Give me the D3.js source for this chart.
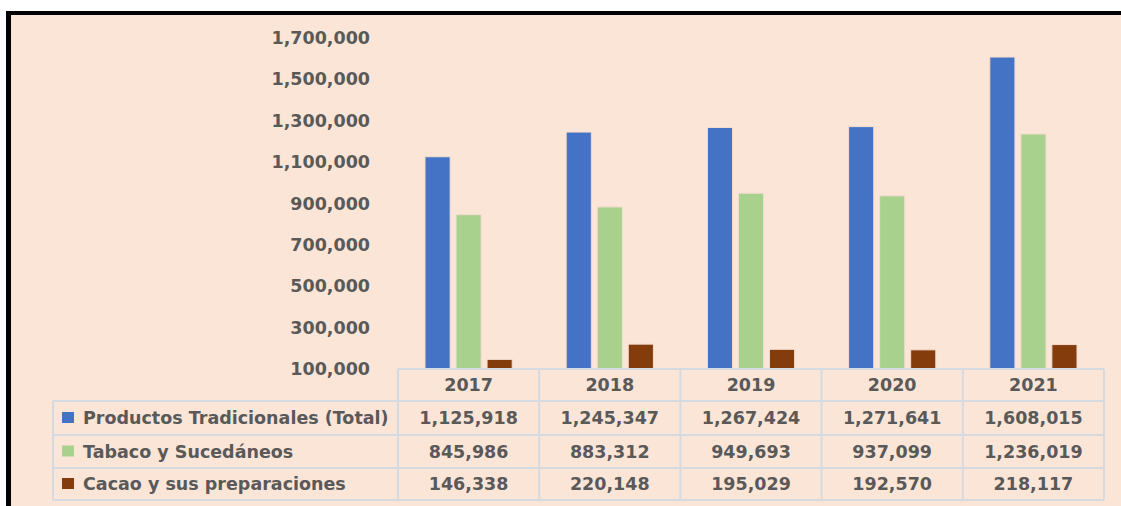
<!DOCTYPE html>
<html>
<head>
<meta charset="utf-8">
<script src="https://cdn.jsdelivr.net/npm/d3@7"></script>
<style>
  html, body { margin: 0; padding: 0; background: #ffffff; }
  svg { display: block; }
</style>
</head>
<body>
<div id="chart"></div>
<script>
// data
let years = ["2017", "2018", "2019", "2020", "2021"];
let seriesNames = ["Productos Tradicionales (Total)", "Tabaco y Sucedáneos", "Cacao y sus preparaciones"];
let tradicionales = [1125918, 1245347, 1267424, 1271641, 1608015];
let tabaco = [845986, 883312, 949693, 937099, 1236019];
let cacao = [146338, 220148, 195029, 192570, 218117];
let yTicks = [100000, 300000, 500000, 700000, 900000, 1100000, 1300000, 1500000, 1700000];

let colors = ["#4472C4", "#A9D18E", "#843C0C"];
let seriesValues = [tradicionales, tabaco, cacao];

let width = 1121, height = 506;
let textColor = "#595959", lineColor = "#D5DAE0";
let fs = 17.5;
let fmt = d3.format(",");

let svg = d3.select("#chart").append("svg")
  .attr("width", width)
  .attr("height", height)
  .attr("font-family", "DejaVu Sans, Verdana, sans-serif")
  .attr("font-weight", "bold");

// frame
svg.append("rect").attr("x", 6).attr("y", 11).attr("width", width).attr("height", height)
  .attr("fill", "#000");
svg.append("rect").attr("x", 11).attr("y", 15).attr("width", width).attr("height", height)
  .attr("fill", "#FBE5D7");

let x0 = d3.scaleBand().domain(years).range([398, 1104]);
let x1 = d3.scaleBand().domain(seriesNames).range([0, x0.bandwidth()])
  .paddingInner(0.19).paddingOuter(0.87);
let y = d3.scaleLinear().domain([100000, 1700000]).range([369, 38]);

// y axis labels only
let yAxis = d3.axisLeft(y).tickValues(yTicks).tickFormat(fmt).tickSize(0).tickPadding(0);
let gy = svg.append("g").attr("transform", "translate(370,0)").call(yAxis);
gy.select(".domain").remove();
gy.selectAll("text")
  .attr("fill", textColor)
  .attr("font-size", fs)
  .attr("font-family", "DejaVu Sans, Verdana, sans-serif")
  .attr("font-weight", "bold");

// bars
let groups = svg.append("g").selectAll("g")
  .data(years)
  .join("g")
  .attr("transform", d => `translate(${x0(d)},0)`);

groups.selectAll("rect")
  .data((d, i) => seriesNames.map((s, j) => ({ name: s, value: seriesValues[j][i], k: j })))
  .join("rect")
  .attr("x", d => x1(d.name))
  .attr("width", x1.bandwidth())
  .attr("y", d => y(d.value))
  .attr("height", d => y(100000) - y(d.value))
  .attr("fill", d => colors[d.k])
  .attr("stroke", "#F4DCCF")
  .attr("stroke-width", 1);

// data table under the plot
let rowTops = [369, 401, 435, 468, 500];
let tableLeft = 53, tableRight = 1104;
let grid = svg.append("g").attr("stroke", lineColor).attr("stroke-width", 2);

rowTops.forEach(function (ry, i) {
  grid.append("line")
    .attr("x1", i === 0 ? x0(years[0]) : tableLeft).attr("x2", tableRight)
    .attr("y1", ry).attr("y2", ry);
});
years.concat(["end"]).forEach(function (yr) {
  let lx = yr === "end" ? tableRight : x0(yr);
  grid.append("line").attr("x1", lx).attr("x2", lx).attr("y1", rowTops[0]).attr("y2", rowTops[4]);
});
grid.append("line").attr("x1", tableLeft).attr("x2", tableLeft).attr("y1", rowTops[1]).attr("y2", rowTops[4]);

// year header
svg.append("g").selectAll("text")
  .data(years)
  .join("text")
  .attr("x", d => x0(d) + x0.bandwidth() / 2)
  .attr("y", (rowTops[0] + rowTops[1]) / 2)
  .attr("dy", "0.36em")
  .attr("text-anchor", "middle")
  .attr("font-size", fs)
  .attr("fill", textColor)
  .text(d => d);

// series rows
seriesNames.forEach(function (name, j) {
  let cy = (rowTops[j + 1] + rowTops[j + 2]) / 2;
  svg.append("rect")
    .attr("x", 62).attr("y", cy - 6)
    .attr("width", 12).attr("height", 11)
    .attr("fill", colors[j]);
  svg.append("text")
    .attr("x", 83).attr("y", cy).attr("dy", "0.36em")
    .attr("font-size", fs)
    .attr("fill", textColor)
    .text(name);
  svg.append("g").selectAll("text")
    .data(seriesValues[j])
    .join("text")
    .attr("x", (d, i) => x0(years[i]) + x0.bandwidth() / 2)
    .attr("y", cy).attr("dy", "0.36em")
    .attr("text-anchor", "middle")
    .attr("font-size", fs)
    .attr("fill", textColor)
    .text(d => fmt(d));
});
</script>
</body>
</html>
